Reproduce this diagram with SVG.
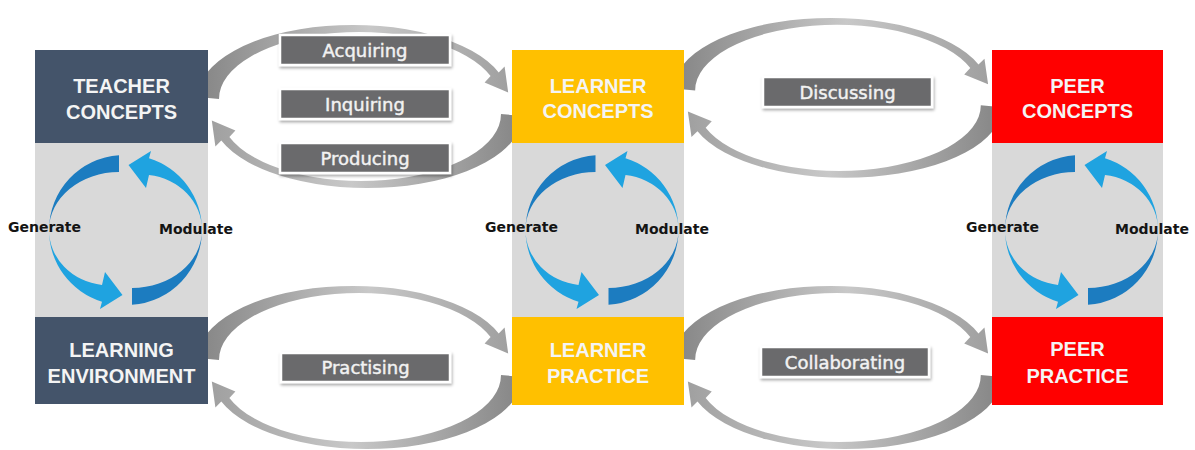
<svg xmlns="http://www.w3.org/2000/svg" width="1195" height="450" viewBox="0 0 1195 450">
<style>
.slate{fill:#44546A}.yel{fill:#FFC000}.red{fill:#FF0000}.mid{fill:#D9D9D9}
.title{font-family:"Liberation Sans",Arial,sans-serif;font-weight:bold;font-size:20px;fill:#F4F4F4;text-anchor:middle}
.cyc{font-family:"DejaVu Sans",sans-serif;font-weight:bold;font-size:14px;fill:#141414}
.lbox{fill:#6B6B6C;stroke:#FFFFFF;stroke-width:2.5;filter:url(#sh)}
.ltxt{font-family:"DejaVu Sans",sans-serif;font-size:18px;fill:#F2F2F2;stroke:#F2F2F2;stroke-width:0.45;text-anchor:middle}
.bd{fill:#1C7CC0}.bl{fill:#1FA3E0}
</style>
<defs>
<linearGradient id="gArc" x1="0" y1="0" x2="1" y2="0">
<stop offset="0" stop-color="#858585"/>
<stop offset="0.55" stop-color="#C8C8C8"/>
<stop offset="1" stop-color="#A0A0A0"/>
</linearGradient>
<path id="arcUp" fill="url(#gArc)" d="M -10,72 A 155 72 0 0 1 290.7,47.4 L 296.6,41.6 L 300.2,67.5 L 276.6,57.6 L 282.6,51.1 A 140 67 0 0 0 11,74 Z"/>
<g id="arcPair">
<use href="#arcUp"/>
<use href="#arcUp" transform="rotate(180 152 81.5)"/>
</g>
<g id="half">
<path class="bd" d="M -6.5,-74.8 A 75 75 0 0 0 -76.5,0 A 70 58 0 0 1 -6.5,-58 Z"/>
<path class="bl" d="M -76.5,0 A 75 75 0 0 0 -23.5,71.7 L -25.5,79 L -3,65 L -20.5,42 L -23.5,55 A 60 55.4 0 0 1 -76.5,0 Z"/>
</g>
<g id="cycle">
<use href="#half"/>
<use href="#half" transform="rotate(180)"/>
</g>
<filter id="sh" x="-10%" y="-30%" width="125%" height="170%">
<feDropShadow dx="1" dy="2" stdDeviation="1.5" flood-color="#000" flood-opacity="0.35"/>
</filter>
</defs>

<g id="connectors">
<use href="#arcPair" transform="translate(208,25)"/>
<use href="#arcPair" transform="translate(684,18) scale(1.013,0.98)"/>
<use href="#arcPair" transform="translate(208,286)"/>
<use href="#arcPair" transform="translate(684,286) scale(1.013,1)"/>
</g>

<g id="teacher-column">
<rect class="mid" x="35" y="143" width="173" height="174"/>
<use href="#cycle" transform="translate(125.5,230)"/>
<text class="cyc" x="8" y="232">Generate</text>
<text class="cyc" x="159" y="234">Modulate</text>
</g>
<g id="teacher-concepts">
<rect class="slate" x="35" y="50" width="173" height="93"/>
<text class="title" x="121.5" y="93">TEACHER</text>
<text class="title" x="121.5" y="119">CONCEPTS</text>
</g>
<g id="learning-environment">
<rect class="slate" x="35" y="317" width="173" height="87"/>
<text class="title" x="121.5" y="357">LEARNING</text>
<text class="title" x="121.5" y="383">ENVIRONMENT</text>
</g>

<g id="learner-column">
<rect class="mid" x="512" y="143" width="172" height="174"/>
<use href="#cycle" transform="translate(602,230)"/>
<text class="cyc" x="485" y="232">Generate</text>
<text class="cyc" x="635" y="234">Modulate</text>
</g>
<g id="learner-concepts">
<rect class="yel" x="512" y="50" width="172" height="93"/>
<text class="title" x="598" y="93">LEARNER</text>
<text class="title" x="598" y="118">CONCEPTS</text>
</g>
<g id="learner-practice">
<rect class="yel" x="512" y="317" width="172" height="88"/>
<text class="title" x="598" y="357">LEARNER</text>
<text class="title" x="598" y="383">PRACTICE</text>
</g>

<g id="peer-column">
<rect class="mid" x="992" y="143" width="171" height="174"/>
<use href="#cycle" transform="translate(1081.5,230)"/>
<text class="cyc" x="966" y="232">Generate</text>
<text class="cyc" x="1115" y="234">Modulate</text>
</g>
<g id="peer-concepts">
<rect class="red" x="992" y="50" width="171" height="93"/>
<text class="title" x="1077.5" y="93">PEER</text>
<text class="title" x="1077.5" y="118">CONCEPTS</text>
</g>
<g id="peer-practice">
<rect class="red" x="992" y="317" width="171" height="88"/>
<text class="title" x="1077.5" y="356">PEER</text>
<text class="title" x="1077.5" y="383">PRACTICE</text>
</g>

<g id="label-acquiring">
<rect class="lbox" x="280" y="35" width="170" height="30"/>
<text class="ltxt" x="365" y="56.5">Acquiring</text>
</g>
<g id="label-inquiring">
<rect class="lbox" x="280" y="89" width="170" height="30"/>
<text class="ltxt" x="365" y="110.5">Inquiring</text>
</g>
<g id="label-producing">
<rect class="lbox" x="280" y="143" width="170" height="30"/>
<text class="ltxt" x="365" y="164.5">Producing</text>
</g>
<g id="label-discussing">
<rect class="lbox" x="763" y="77" width="169" height="30"/>
<text class="ltxt" x="847.5" y="98.5">Discussing</text>
</g>
<g id="label-practising">
<rect class="lbox" x="281" y="353" width="169" height="29"/>
<text class="ltxt" x="365.5" y="374">Practising</text>
</g>
<g id="label-collaborating">
<rect class="lbox" x="761" y="347" width="168" height="30"/>
<text class="ltxt" x="845" y="368.5">Collaborating</text>
</g>
</svg>
